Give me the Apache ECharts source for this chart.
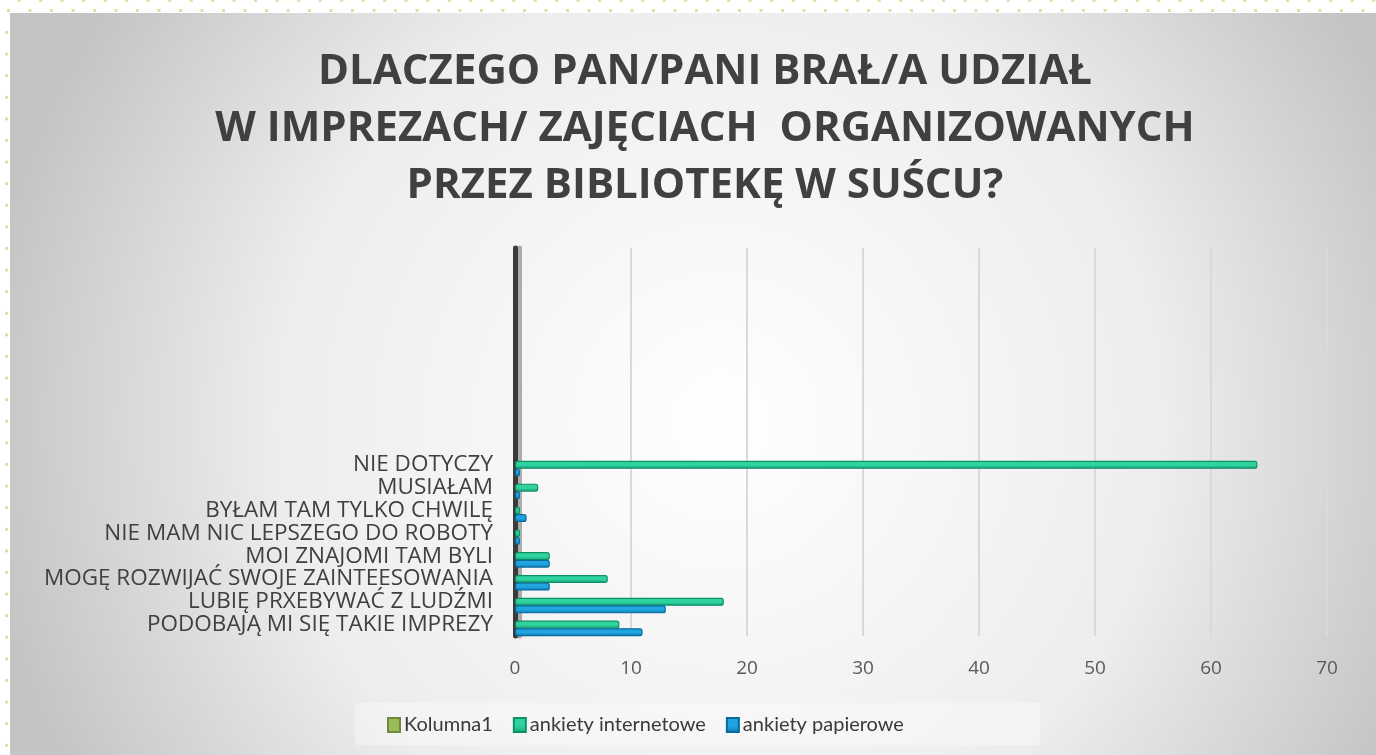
<!DOCTYPE html>
<html>
<head>
<meta charset="utf-8">
<script src="https://cdn.jsdelivr.net/npm/echarts@6/dist/echarts.min.js"></script>
<style>
  html, body { margin: 0; padding: 0; background: #fff; }
  #chart { width: 1376px; height: 755px; }
</style>
</head>
<body>
<div id="chart"></div>
<script>
// categories, bottom to top
const categories = [
    'PODOBAJĄ MI SIĘ TAKIE IMPREZY',
    'LUBIĘ PRXEBYWAĆ Z LUDŹMI',
    'MOGĘ ROZWIJAĆ SWOJE ZAINTEESOWANIA',
    'MOI ZNAJOMI TAM BYLI',
    'NIE MAM NIC LEPSZEGO DO ROBOTY',
    'BYŁAM TAM TYLKO CHWILĘ',
    'MUSIAŁAM',
    'NIE DOTYCZY'
];
const kolumna1 = ['-', '-', '-', '-', '-', '-', '-', '-'];
const internetowe = [9, 18, 8, 3, 0, 0, 2, 64];
const papierowe = [11, 13, 3, 3, 0, 1, 0, 0];
const seriesNames = ['Kolumna1', 'ankiety internetowe', 'ankiety papierowe'];

const chart = echarts.init(document.getElementById('chart'));

// decorative dotted frame around the panel
const dots = [];
for (let x = 7; x < 1376; x += 21.5) {
    dots.push({ type: 'rect', shape: { x: x, y: 9, width: 3, height: 3 }, style: { fill: '#d8e4a6' }, silent: true });
    dots.push({ type: 'rect', shape: { x: x + 10.7, y: -1, width: 3, height: 3 }, style: { fill: '#d8e4a6' }, silent: true });
}
for (let y = 31; y < 755; y += 21.6) {
    dots.push({ type: 'rect', shape: { x: 5, y: y, width: 3, height: 3 }, style: { fill: '#d8e4a6' }, silent: true });
}

function barFill(light, dark) {
    return new echarts.graphic.LinearGradient(0, 0, 0, 1, [
        { offset: 0, color: light },
        { offset: 0.55, color: light },
        { offset: 1, color: dark }
    ]);
}

const option = {
    backgroundColor: '#ffffff',
    graphic: [
        {
            type: 'rect',
            z: -10,
            shape: { x: 10, y: 13, width: 1366, height: 742 },
            style: {
                fill: new echarts.graphic.RadialGradient(0.52, 0.55, 1.0, [
                    { offset: 0, color: '#ffffff' },
                    { offset: 0.6, color: '#ededed' },
                    { offset: 1, color: '#c4c4c4' }
                ])
            },
            silent: true
        },
        {
            type: 'rect',
            z: -9,
            shape: { x: 355, y: 703, width: 685, height: 42 },
            style: { fill: 'rgba(255,255,255,0.35)' },
            silent: true
        }
    ].concat(dots),
    title: {
        text: 'DLACZEGO PAN/PANI BRAŁ/A UDZIAŁ\nW IMPREZACH/ ZAJĘCIACH  ORGANIZOWANYCH\nPRZEZ BIBLIOTEKĘ W SUŚCU?',
        left: 700,
        top: 39,
        textAlign: 'center',
        textStyle: {
            fontFamily: 'Open Sans',
            fontSize: 42,
            fontWeight: 'bold',
            lineHeight: 57,
            color: '#404040'
        }
    },
    legend: {
        left: 382,
        top: 710,
        itemWidth: 12,
        itemHeight: 14,
        itemGap: 20,
        icon: 'rect',
        textStyle: { fontFamily: 'Lato', fontSize: 20, color: '#3a3a3a', padding: [0, 0, 0, -1] },
        data: seriesNames
    },
    grid: { left: 515, right: 49, top: 248, bottom: 119 },
    xAxis: {
        type: 'value',
        min: 0,
        max: 70,
        interval: 10,
        axisLine: { show: false },
        axisTick: { show: false },
        axisLabel: { margin: 23, fontFamily: 'Open Sans', fontSize: 19, color: '#595959' },
        splitLine: { lineStyle: { color: '#d9d9d9', width: 2 } }
    },
    yAxis: {
        type: 'category',
        data: categories,
        max: 16,
        axisTick: { show: false },
        axisLine: {
            lineStyle: {
                color: '#3a3a3a',
                width: 5,
                shadowColor: 'rgba(0,0,0,0.3)',
                shadowOffsetX: 4
            }
        },
        axisLabel: {
            interval: 0,
            margin: 22,
            fontFamily: 'Open Sans',
            fontSize: 22.5,
            color: '#404040',
            formatter: v => v || ''
        }
    },
    series: [
        {
            name: seriesNames[0],
            type: 'bar',
            barWidth: 8,
            barGap: '-5%',
            itemStyle: { color: '#9bbb59', borderColor: '#71893f', borderWidth: 1 },
            data: kolumna1
        },
        {
            name: seriesNames[1],
            type: 'bar',
            barWidth: 8,
            barGap: '-5%',
            barMinHeight: 5,
            itemStyle: {
                color: barFill('#2fd3a0', '#15a276'),
                borderColor: '#0f9168',
                borderWidth: 1.2,
                borderRadius: 2
            },
            data: internetowe
        },
        {
            name: seriesNames[2],
            type: 'bar',
            barWidth: 8,
            barGap: '-5%',
            barMinHeight: 5,
            itemStyle: {
                color: barFill('#20a5e0', '#0b78b4'),
                borderColor: '#0a6a9e',
                borderWidth: 1.2,
                borderRadius: 2
            },
            data: papierowe
        }
    ]
};

chart.setOption(option);
</script>
</body>
</html>
